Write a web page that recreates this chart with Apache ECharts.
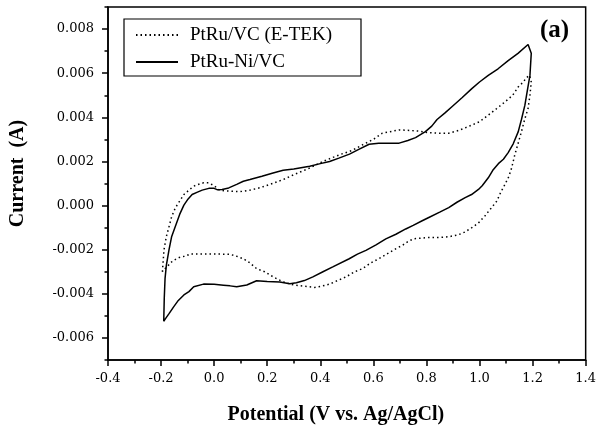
<!DOCTYPE html>
<html>
<head>
<meta charset="utf-8">
<script src="https://cdn.jsdelivr.net/npm/echarts@6/dist/echarts.min.js"></script>
<style>
html, body { margin: 0; padding: 0; background: #fff; }
#main { width: 599px; height: 430px; }
</style>
</head>
<body>
<div id="main"></div>
<script>
// PtRu/VC (E-TEK): potential (V) and current (A), one sweep round the loop
var etekV = [-0.195, -0.192, -0.189, -0.180, -0.171, -0.160, -0.146, -0.130, -0.114, -0.095, -0.077, -0.055, -0.040, -0.021, 0.000, 0.020, 0.048, 0.098, 0.135, 0.173, 0.220, 0.260, 0.300, 0.360, 0.410, 0.472, 0.520, 0.559, 0.600, 0.634, 0.697, 0.771, 0.809, 0.850, 0.884, 0.920, 0.958, 1.000, 1.033, 1.065, 1.096, 1.125, 1.146, 1.165, 1.177, 1.189,
  1.195, 1.190, 1.183, 1.170, 1.158, 1.145, 1.133, 1.121, 1.110, 1.096, 1.080, 1.065, 1.045, 1.021, 0.995, 0.971, 0.945, 0.921, 0.890, 0.859, 0.809, 0.784, 0.755, 0.734, 0.710, 0.684, 0.650, 0.622, 0.590, 0.559, 0.530, 0.497, 0.465, 0.435, 0.400, 0.378, 0.335, 0.300, 0.260, 0.222, 0.190, 0.160, 0.135, 0.110, 0.085, 0.060, 0.020, -0.015, -0.055, -0.089, -0.110, -0.127, -0.140, -0.152, -0.165, -0.177, -0.189, -0.195];
var etekI = [-0.0030, -0.0025, -0.0020, -0.0014, -0.0010, -0.0005, -0.0001, 0.0002, 0.0005, 0.0007, 0.00088, 0.00098, 0.00103, 0.00103, 0.0009, 0.0007, 0.00066, 0.00063, 0.0007, 0.00081, 0.0010, 0.00118, 0.0014, 0.0017, 0.0020, 0.0023, 0.0025, 0.00275, 0.0030, 0.00328, 0.00343, 0.00338, 0.0033, 0.00328, 0.00328, 0.0034, 0.00358, 0.0038, 0.0041, 0.0044, 0.0047, 0.0050, 0.00538, 0.0056, 0.0058, 0.0059,
  0.0056, 0.0050, 0.0044, 0.0039, 0.00335, 0.0028, 0.0023, 0.0017, 0.0013, 0.00096, 0.0006, 0.0002, -0.0001, -0.00046, -0.0008, -0.0010, -0.0012, -0.00132, -0.0014, -0.00144, -0.00145, -0.00147, -0.0015, -0.0016, -0.0018, -0.00196, -0.0022, -0.0024, -0.0026, -0.00286, -0.0030, -0.00323, -0.0034, -0.00356, -0.00367, -0.00371, -0.00365, -0.0036, -0.00346, -0.00323, -0.0030, -0.00286, -0.0026, -0.00241, -0.0023, -0.00221, -0.0022, -0.00219, -0.0022, -0.00219, -0.0023, -0.00233, -0.0024, -0.00248, -0.0026, -0.00278, -0.0029, -0.0030];

// PtRu-Ni/VC
var niV = [-0.190, -0.188, -0.185, -0.180, -0.170, -0.160, -0.145, -0.130, -0.114, -0.098, -0.083, -0.065, -0.045, -0.020, 0.000, 0.011, 0.030, 0.055, 0.085, 0.110, 0.135, 0.180, 0.222, 0.260, 0.300, 0.360, 0.400, 0.435, 0.470, 0.510, 0.545, 0.584, 0.620, 0.660, 0.697, 0.730, 0.759, 0.796, 0.820, 0.840, 0.870, 0.896, 0.935, 0.971, 1.000, 1.033, 1.070, 1.108, 1.145, 1.183,
  1.195, 1.190, 1.180, 1.171, 1.158, 1.146, 1.127, 1.108, 1.090, 1.071, 1.050, 1.033, 1.010, 0.996, 0.970, 0.946, 0.915, 0.884, 0.850, 0.809, 0.784, 0.750, 0.722, 0.685, 0.647, 0.610, 0.572, 0.540, 0.509, 0.447, 0.410, 0.372, 0.340, 0.310, 0.285, 0.247, 0.200, 0.160, 0.123, 0.085, 0.060, 0.035, 0.000, -0.040, -0.077, -0.095, -0.114, -0.135, -0.152, -0.170, -0.182, -0.190];
var niI = [-0.00525, -0.0042, -0.0033, -0.0027, -0.0020, -0.0014, -0.0009, -0.0004, 0.00002, 0.0003, 0.0005, 0.0006, 0.0007, 0.00078, 0.00078, 0.00072, 0.00073, 0.0008, 0.00096, 0.0011, 0.00118, 0.00133, 0.00148, 0.0016, 0.00166, 0.00178, 0.0019, 0.0020, 0.00215, 0.00233, 0.00255, 0.00278, 0.00282, 0.00282, 0.00283, 0.00295, 0.00308, 0.00335, 0.0036, 0.0039, 0.0042, 0.00448, 0.0049, 0.0053, 0.0056, 0.0059, 0.0062, 0.00657, 0.0069, 0.0073,
  0.0069, 0.0059, 0.0052, 0.00455, 0.0039, 0.00335, 0.0028, 0.0024, 0.0021, 0.0019, 0.0016, 0.00126, 0.0009, 0.00073, 0.0005, 0.00036, 0.00015, -0.00009, -0.0003, -0.00054, -0.00069, -0.0009, -0.00106, -0.0013, -0.00151, -0.00178, -0.00203, -0.0022, -0.00241, -0.00278, -0.0030, -0.00323, -0.0034, -0.0035, -0.00354, -0.00346, -0.00344, -0.00341, -0.0036, -0.00368, -0.00364, -0.00361, -0.00357, -0.00356, -0.00368, -0.0039, -0.00405, -0.0043, -0.00458, -0.0049, -0.0051, -0.00525];

var seriesNames = ['PtRu/VC (E-TEK)', 'PtRu-Ni/VC'];
var yMajor = [-0.006, -0.004, -0.002, 0.000, 0.002, 0.004, 0.006, 0.008];
var yMinor = [-0.007, -0.005, -0.003, -0.001, 0.001, 0.003, 0.005, 0.007, 0.009];

function pairs(xs, ys) {
  var out = [];
  for (var i = 0; i < xs.length; i++) out.push([xs[i], ys[i]]);
  return out;
}

var serif = 'Liberation Serif';
var tickFont = { fontFamily: 'DejaVu Serif', fontSize: 13, color: '#000' };

var myChart = echarts.init(document.getElementById('main'));
var option = {
  backgroundColor: '#fff',
  animation: false,
  grid: {
    left: 107, right: 11, top: 7, bottom: 68,
    show: true, borderColor: '#000', borderWidth: 1.5
  },
  legend: {
    orient: 'vertical',
    left: 124, top: 19,
    padding: [6, 6, 4, 11],
    itemGap: 7,
    itemWidth: 42, itemHeight: 14,
    borderColor: '#000', borderWidth: 1.2,
    itemStyle: { color: 'rgba(0,0,0,0)', borderWidth: 0 },
    data: seriesNames,
    textStyle: { fontFamily: serif, fontSize: 19, color: '#000', lineHeight: 20, width: 165, padding: [0, 0, 0, 7] }
  },
  xAxis: {
    type: 'value',
    min: -0.4, max: 1.4, interval: 0.2,
    name: 'Potential (V vs. Ag/AgCl)',
    nameLocation: 'middle', nameGap: 45,
    nameTextStyle: { fontFamily: serif, fontSize: 20, fontWeight: 'bold', color: '#000', padding: [0, 22, 0, 0] },
    axisLine: { onZero: false, lineStyle: { color: '#000', width: 1.5 } },
    axisTick: { length: 6, lineStyle: { color: '#000', width: 1.5 } },
    minorTick: { show: true, splitNumber: 2, length: 3.5, lineStyle: { color: '#000', width: 1.5 } },
    axisLabel: Object.assign({ margin: 12, formatter: function (v) { return v.toFixed(1); } }, tickFont),
    splitLine: { show: false }
  },
  yAxis: [{
    type: 'value',
    min: -0.007, max: 0.009,
    name: 'Current  (A)',
    nameLocation: 'middle', nameGap: 80,
    nameTextStyle: { fontFamily: serif, fontSize: 20, fontWeight: 'bold', color: '#000', padding: [0, 0, 0, 20] },
    axisLine: { onZero: false, lineStyle: { color: '#000', width: 1.5 } },
    axisTick: { length: 6, customValues: yMajor, lineStyle: { color: '#000', width: 1.5 } },
    axisLabel: Object.assign({ margin: 14, customValues: yMajor, formatter: function (v) { return v.toFixed(3); } }, tickFont),
    splitLine: { show: false }
  }, {
    type: 'value',
    position: 'left',
    min: -0.007, max: 0.009,
    axisLine: { show: false, onZero: false },
    axisTick: { show: true, length: 3.5, customValues: yMinor, lineStyle: { color: '#000', width: 1.5 } },
    axisLabel: { show: false },
    splitLine: { show: false }
  }],
  graphic: [{
    type: 'text', left: 540, top: 18,
    style: { text: '(a)', fontFamily: serif, fontSize: 25, fontWeight: 'bold', fill: '#000' }
  }],
  series: [{
    name: seriesNames[0],
    type: 'line',
    data: pairs(etekV, etekI),
    showSymbol: false, symbol: 'none',
    lineStyle: { color: '#000', width: 1.5, type: [1.5, 3] },
    itemStyle: { color: '#000' }
  }, {
    name: seriesNames[1],
    type: 'line',
    data: pairs(niV, niI),
    showSymbol: false, symbol: 'none',
    lineStyle: { color: '#000', width: 1.5 },
    itemStyle: { color: '#000' }
  }]
};
myChart.setOption(option);
</script>
</body>
</html>
